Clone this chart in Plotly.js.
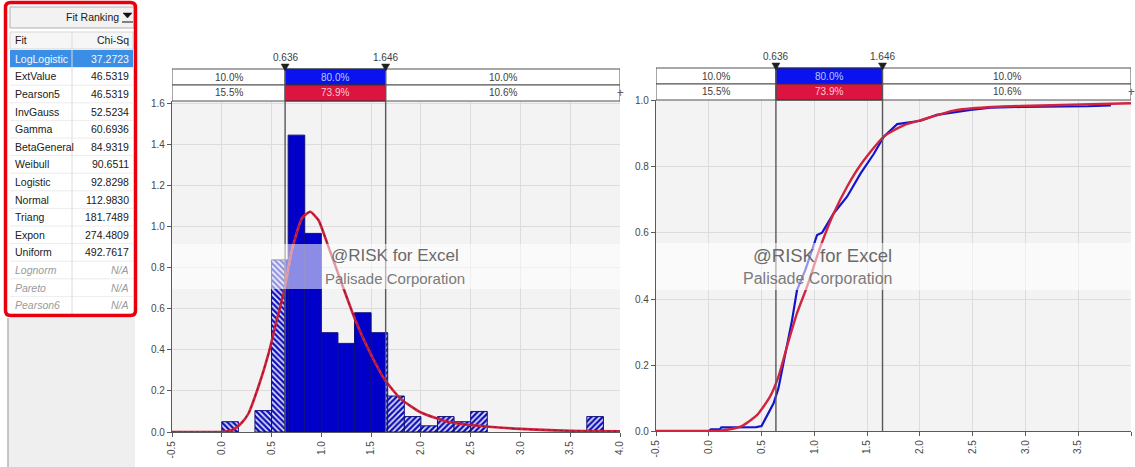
<!DOCTYPE html>
<html>
<head>
<meta charset="utf-8">
<script src="https://cdn.plot.ly/plotly-3.0.1.min.js"></script>
<style>
  html, body { margin: 0; padding: 0; background: #ffffff; }
  #chart { width: 1135px; height: 467px; }
</style>
</head>
<body>
<div id="chart"></div>
<script>
// ---- Fit ranking table ----
const fitNames = ['LogLogistic', 'ExtValue', 'Pearson5', 'InvGauss', 'Gamma', 'BetaGeneral',
  'Weibull', 'Logistic', 'Normal', 'Triang', 'Expon', 'Uniform', 'Lognorm', 'Pareto', 'Pearson6'];
const chiSq = [37.2723, 46.5319, 46.5319, 52.5234, 60.6936, 84.9319, 90.6511, 92.8298,
  112.9830, 181.7489, 274.4809, 492.7617, null, null, null];

// ---- Histogram of the input data (density per bin) ----
const binWidth = 1 / 6;
const binLeft = [0/6, 1/6, 2/6, 3/6, 4/6, 5/6, 6/6, 7/6, 8/6, 9/6, 10/6, 11/6, 12/6, 13/6,
  14/6, 15/6, 16/6, 17/6, 18/6, 19/6, 20/6, 21/6, 22/6];
const density = [0.05, 0, 0.104, 0.837, 1.444, 0.966, 0.483, 0.431, 0.58, 0.483, 0.175, 0.075,
  0.03, 0.075, 0.05, 0.10, 0, 0, 0, 0, 0, 0, 0.075];

// ---- Fitted LogLogistic density ----
const pdfX = [-0.5, 0.0, 0.06, 0.134, 0.2, 0.268, 0.368, 0.469, 0.553, 0.62, 0.704, 0.805, 0.888,
  0.972, 1.072, 1.207, 1.341, 1.475, 1.643, 1.8, 2.0, 2.27, 2.5, 3.0, 3.5, 4.0];
const pdfY = [0, 0, 0.003, 0.018, 0.045, 0.09, 0.22, 0.38, 0.545, 0.674, 0.885, 1.04, 1.071,
  1.03, 0.90, 0.72, 0.545, 0.40, 0.25, 0.16, 0.095, 0.05, 0.034, 0.015, 0.006, 0.004];

// ---- Cumulative curves ----
const cdfFitX = [-0.5, 0.0, 0.108, 0.30, 0.456, 0.58, 0.66, 0.74, 0.836, 0.93, 1.057, 1.184,
  1.31, 1.437, 1.658, 1.85, 2.007, 2.32, 2.64, 2.96, 4.0];
const cdfFitY = [0, 0, 0.001, 0.013, 0.048, 0.104, 0.165, 0.255, 0.357, 0.437, 0.558, 0.66,
  0.74, 0.806, 0.892, 0.927, 0.942, 0.971, 0.981, 0.985, 0.993];
const cdfDataX = [-0.5, 0.0, 0.02, 0.108, 0.12, 0.45, 0.5, 0.56, 0.614, 0.66, 0.709, 0.773,
  0.789, 0.836, 0.915, 1.026, 1.074, 1.184, 1.31, 1.437, 1.564, 1.658, 1.785, 2.007, 2.16,
  2.48, 2.67, 2.96, 3.59, 3.81];
const cdfDataY = [0, 0, 0.005, 0.006, 0.011, 0.012, 0.015, 0.05, 0.084, 0.13, 0.207, 0.313,
  0.336, 0.427, 0.488, 0.594, 0.601, 0.66, 0.71, 0.78, 0.84, 0.892, 0.93, 0.94, 0.958,
  0.973, 0.98, 0.982, 0.984, 0.987];

// ---- Delimiters and band percentages ----
const delimLow = 0.636, delimHigh = 1.646;
const inputPct = ['10.0%', '80.0%', '10.0%'];
const fitPct = ['15.5%', '73.9%', '10.6%'];
const xMin = -0.5, xMax = 4.0;
const xTicks = [-0.5, 0.0, 0.5, 1.0, 1.5, 2.0, 2.5, 3.0, 3.5, 4.0];

// ---- Pixel helpers (figure has zero margins, so paper == page) ----
const W = 1135, H = 467;
const px = v => v / W;
const py = v => 1 - v / H;

// Split each histogram bin at the delimiters: outside parts are hatched.
function binSegments(lo, hi) {
  const xs = [], ys = [], ws = [];
  binLeft.forEach((a, i) => {
    const b = a + binWidth;
    const s = Math.max(a, lo), e = Math.min(b, hi);
    if (e - s > 1e-9 && density[i] > 0) {
      xs.push((s + e) / 2); ws.push(e - s); ys.push(density[i]);
    }
  });
  return { xs, ys, ws };
}
const segLeft = binSegments(-10, delimLow);
const segMid = binSegments(delimLow, delimHigh);
const segRight = binSegments(delimHigh, 10);

const barLine = { color: '#10107a', width: 1 };
const hatch = shape => ({ shape: shape, fgcolor: '#1010b8', bgcolor: '#eef0ff', size: 4, solidity: 0.62 });
const traces = [
  { type: 'bar', x: segLeft.xs, y: segLeft.ys, width: segLeft.ws, xaxis: 'x', yaxis: 'y',
    marker: { color: '#ffffff', line: barLine, pattern: hatch('\\') }, hoverinfo: 'skip' },
  { type: 'bar', x: segMid.xs, y: segMid.ys, width: segMid.ws, xaxis: 'x', yaxis: 'y',
    marker: { color: '#0000c8', line: barLine }, hoverinfo: 'skip' },
  { type: 'bar', x: segRight.xs, y: segRight.ys, width: segRight.ws, xaxis: 'x', yaxis: 'y',
    marker: { color: '#ffffff', line: barLine, pattern: hatch('/') }, hoverinfo: 'skip' },
  { type: 'scatter', mode: 'lines', x: pdfX, y: pdfY, xaxis: 'x', yaxis: 'y',
    line: { color: '#d2233f', width: 2.6, shape: 'spline', smoothing: 0.5 }, hoverinfo: 'skip' },
  { type: 'scatter', mode: 'lines', x: pdfX, y: pdfY, xaxis: 'x', yaxis: 'y',
    line: { color: '#7a1028', width: 0.8, dash: 'dot', shape: 'spline', smoothing: 0.5 },
    hoverinfo: 'skip' },
  { type: 'scatter', mode: 'lines', x: cdfDataX, y: cdfDataY, xaxis: 'x2', yaxis: 'y2',
    line: { color: '#1414cc', width: 2.2 }, hoverinfo: 'skip' },
  { type: 'scatter', mode: 'lines', x: cdfFitX, y: cdfFitY, xaxis: 'x2', yaxis: 'y2',
    line: { color: '#d2233f', width: 2.4, shape: 'spline', smoothing: 0.6 }, hoverinfo: 'skip' }
];

const shapes = [];
const annotations = [];
const labelFamily = 'Liberation Sans, Arial, sans-serif';
const tickFont = { family: labelFamily, size: 10, color: '#484848' };

// Header bands, delimiter lines and watermark for one chart panel.
function panelDecor(xr, pxLeft, pxRight, rowTop, plotBottom, wmY0, wmY1, wmBig, wmSmall, wmCx, wmTextY) {
  const r1a = rowTop, r1b = rowTop + 16, r2b = rowTop + 32;
  const unitPerPx = (xMax - xMin) / (pxRight - pxLeft);
  shapes.push({ type: 'rect', xref: xr, yref: 'paper', x0: xMin, x1: xMax, y0: py(r1b), y1: py(r1a),
    fillcolor: '#ffffff', line: { color: '#505050', width: 1 } });
  shapes.push({ type: 'rect', xref: xr, yref: 'paper', x0: xMin, x1: xMax, y0: py(r2b), y1: py(r1b),
    fillcolor: '#ffffff', line: { color: '#505050', width: 1 } });
  shapes.push({ type: 'rect', xref: xr, yref: 'paper', x0: delimLow, x1: delimHigh, y0: py(r1b), y1: py(r1a),
    fillcolor: '#0a12f0', line: { color: '#303030', width: 1 } });
  shapes.push({ type: 'rect', xref: xr, yref: 'paper', x0: delimLow, x1: delimHigh, y0: py(r2b), y1: py(r1b),
    fillcolor: '#dc1440', line: { color: '#303030', width: 1 } });
  [delimLow, delimHigh].forEach(d => {
    shapes.push({ type: 'line', xref: xr, yref: 'paper', x0: d, x1: d, y0: py(plotBottom), y1: py(r1a),
      line: { color: '#585858', width: 1.4 } });
    // small downward triangle marking the delimiter
    const hw = 4 * unitPerPx;
    shapes.push({ type: 'path', xref: xr, yref: 'paper',
      path: 'M' + (d - hw) + ',' + py(r1a - 5) + ' L' + (d + hw) + ',' + py(r1a - 5) +
        ' L' + d + ',' + py(r1a + 2) + ' Z',
      fillcolor: '#202020', line: { color: '#202020', width: 0.5 } });
    annotations.push({ xref: xr, yref: 'paper', x: d, y: py(r1a - 12), text: d.toFixed(3), showarrow: false,
      font: { family: labelFamily, size: 10, color: '#404040' }, yanchor: 'middle' });
  });
  const centers = [(xMin + delimLow) / 2, (delimLow + delimHigh) / 2, (delimHigh + xMax) / 2];
  const textFont = c => ({ family: labelFamily, size: 10, color: c });
  centers.forEach((c, i) => {
    annotations.push({ xref: xr, yref: 'paper', x: c, y: py(r1a + 8), text: inputPct[i], showarrow: false,
      yanchor: 'middle', font: textFont(i === 1 ? '#b8c8ff' : '#404040') });
    annotations.push({ xref: xr, yref: 'paper', x: c, y: py(r1b + 8), text: fitPct[i], showarrow: false,
      yanchor: 'middle', font: textFont(i === 1 ? '#ffc8d0' : '#404040') });
  });
  annotations.push({ xref: xr, yref: 'paper', x: xMax, y: py(r1b + 8), text: '+', showarrow: false,
    yanchor: 'middle', font: { size: 12, color: '#606060' } });
  // translucent watermark band
  shapes.push({ type: 'rect', xref: xr, yref: 'paper', x0: xMin, x1: xMax, y0: py(wmY1), y1: py(wmY0),
    fillcolor: 'rgba(255,255,255,0.55)', line: { width: 0 }, layer: 'above' });
  annotations.push({ xref: 'paper', yref: 'paper', x: px(wmCx), y: py(wmTextY), text: '@RISK for Excel',
    showarrow: false, yanchor: 'middle',
    font: { family: labelFamily, size: wmBig, color: '#6a6a6a' } });
  annotations.push({ xref: 'paper', yref: 'paper', x: px(wmCx), y: py(wmTextY + 23), text: 'Palisade Corporation',
    showarrow: false, yanchor: 'middle',
    font: { family: labelFamily, size: wmSmall, color: '#7a7a7a' } });
}
panelDecor('x', 172, 620, 69, 432, 244, 289, 17, 15, 395, 255);
panelDecor('x2', 656, 1131, 68, 431, 243, 290, 18.5, 16, 894, 255);

// ---- Fit ranking panel ----
const tFont = { family: labelFamily, size: 10.5, color: '#202020' };
// grey filler under the table
shapes.push({ type: 'rect', xref: 'paper', yref: 'paper', x0: px(8), x1: px(135), y0: py(467), y1: py(318),
  fillcolor: '#efefef', line: { width: 0 } });
shapes.push({ type: 'line', xref: 'paper', yref: 'paper', x0: px(8), x1: px(8), y0: py(467), y1: py(318),
  line: { color: '#b4b4b4', width: 1.5 } });
// title box
shapes.push({ type: 'rect', xref: 'paper', yref: 'paper', x0: px(10), x1: px(134), y0: py(28), y1: py(7),
  fillcolor: '#f2f2f2', line: { color: '#b0b0b0', width: 1 } });
annotations.push({ xref: 'paper', yref: 'paper', x: px(64), y: py(17), text: 'Fit Ranking', showarrow: false,
  yanchor: 'middle', font: tFont });
shapes.push({ type: 'path', xref: 'paper', yref: 'paper',
  path: 'M' + px(123) + ',' + py(13) + ' L' + px(132) + ',' + py(13) + ' L' + px(127.5) + ',' + py(18) + ' Z',
  fillcolor: '#111111', line: { color: '#111111', width: 0.5 } });
shapes.push({ type: 'line', xref: 'paper', yref: 'paper', x0: px(122), x1: px(133), y0: py(22), y1: py(22),
  line: { color: '#111111', width: 1 } });
// column header
shapes.push({ type: 'rect', xref: 'paper', yref: 'paper', x0: px(10), x1: px(133), y0: py(49), y1: py(32),
  fillcolor: '#f6f6f6', line: { color: '#d6d6d6', width: 1 } });
annotations.push({ xref: 'paper', yref: 'paper', x: px(13), y: py(40.5), text: 'Fit', showarrow: false,
  xanchor: 'left', yanchor: 'middle', font: tFont });
annotations.push({ xref: 'paper', yref: 'paper', x: px(131), y: py(40.5), text: 'Chi-Sq', showarrow: false,
  xanchor: 'right', yanchor: 'middle', font: tFont });
// rows
const rowTop0 = 50, rowH = 17.6;
fitNames.forEach((name, i) => {
  const yc = rowTop0 + rowH * i + rowH / 2;
  const selected = i === 0;
  const na = chiSq[i] === null;
  if (selected) {
    shapes.push({ type: 'rect', xref: 'paper', yref: 'paper', x0: px(10), x1: px(133),
      y0: py(rowTop0 + rowH * (i + 1)), y1: py(rowTop0 + rowH * i),
      fillcolor: '#3a8ee6', line: { width: 0 } });
  }
  shapes.push({ type: 'line', xref: 'paper', yref: 'paper', x0: px(10), x1: px(133),
    y0: py(rowTop0 + rowH * (i + 1)), y1: py(rowTop0 + rowH * (i + 1)),
    line: { color: '#ececec', width: 1 } });
  const col = selected ? '#f4f8ff' : (na ? '#9a9a9a' : '#202020');
  const f = { family: labelFamily, size: 10.5, color: col, style: na ? 'italic' : 'normal' };
  annotations.push({ xref: 'paper', yref: 'paper', x: px(13), y: py(yc), text: name, showarrow: false,
    xanchor: 'left', yanchor: 'middle', font: f });
  annotations.push({ xref: 'paper', yref: 'paper', x: px(131), y: py(yc),
    text: na ? 'N/A' : chiSq[i].toFixed(4), showarrow: false,
    xanchor: 'right', yanchor: 'middle', font: f });
});
shapes.push({ type: 'line', xref: 'paper', yref: 'paper', x0: px(72), x1: px(72), y0: py(314), y1: py(32),
  line: { color: '#dcdcdc', width: 1 } });
// red rounded frame
(function () {
  const x0 = 5.5, x1 = 135.5, y0 = 2.5, y1 = 315.5, r = 5;
  const P = (x, y) => px(x) + ',' + py(y);
  const path = 'M' + P(x0 + r, y0) + ' L' + P(x1 - r, y0) + ' Q' + P(x1, y0) + ' ' + P(x1, y0 + r) +
    ' L' + P(x1, y1 - r) + ' Q' + P(x1, y1) + ' ' + P(x1 - r, y1) +
    ' L' + P(x0 + r, y1) + ' Q' + P(x0, y1) + ' ' + P(x0, y1 - r) +
    ' L' + P(x0, y0 + r) + ' Q' + P(x0, y0) + ' ' + P(x0 + r, y0) + ' Z';
  shapes.push({ type: 'path', xref: 'paper', yref: 'paper', path: path,
    line: { color: '#e8000c', width: 3.5 }, fillcolor: 'rgba(0,0,0,0)' });
})();

const axisCommon = {
  showgrid: true, gridcolor: '#dcdcdc', gridwidth: 1, zeroline: false,
  showline: true, linecolor: '#5a5a5a', linewidth: 1.2,
  ticks: 'outside', ticklen: 4, tickcolor: '#5a5a5a', tickfont: tickFont
};
const tickText = xTicks.map(v => v.toFixed(1));

const layout = {
  width: W, height: H,
  margin: { l: 0, r: 0, t: 0, b: 0, pad: 0 },
  paper_bgcolor: '#ffffff', plot_bgcolor: '#f3f3f3',
  showlegend: false, barmode: 'overlay',
  xaxis: Object.assign({}, axisCommon, {
    domain: [px(172), px(620)], range: [xMin, xMax], anchor: 'y',
    tickvals: xTicks, ticktext: tickText, tickangle: -90 }),
  yaxis: Object.assign({}, axisCommon, {
    domain: [py(432), py(101)], range: [0, 1.61], anchor: 'x',
    tickvals: [0, 0.2, 0.4, 0.6, 0.8, 1.0, 1.2, 1.4, 1.6], tickformat: '.1f' }),
  xaxis2: Object.assign({}, axisCommon, {
    domain: [px(656), px(1131)], range: [xMin, xMax], anchor: 'y2',
    tickvals: xTicks, ticktext: tickText, tickangle: -90 }),
  yaxis2: Object.assign({}, axisCommon, {
    domain: [py(431), py(100)], range: [0, 1.003], anchor: 'x2',
    tickvals: [0, 0.2, 0.4, 0.6, 0.8, 1.0], tickformat: '.1f' }),
  shapes: shapes,
  annotations: annotations
};

Plotly.newPlot('chart', traces, layout, { staticPlot: true, displayModeBar: false });
</script>
</body>
</html>
